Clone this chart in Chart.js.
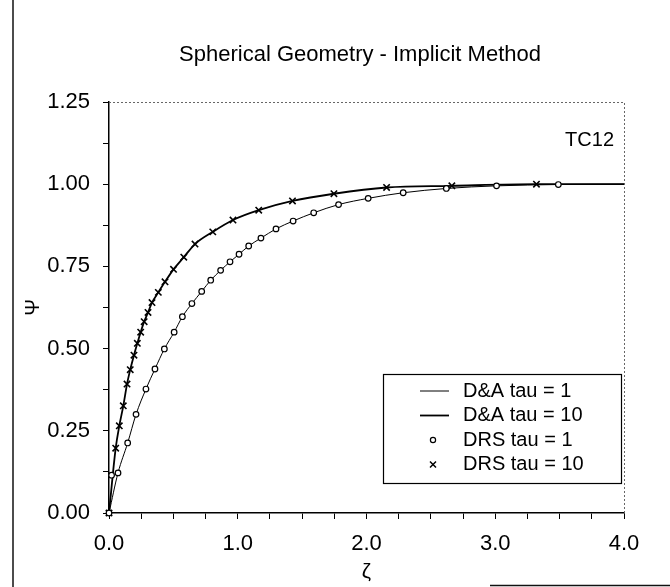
<!DOCTYPE html>
<html>
<head>
<meta charset="utf-8">
<script src="https://cdn.jsdelivr.net/npm/chart.js@4.4.0/dist/chart.umd.min.js"></script>
<style>
  html, body { margin: 0; padding: 0; background: #fff; }
  #chart { display: block; }
</style>
</head>
<body>
<canvas id="chart" width="670" height="587"></canvas>
<script>
// D&A tau = 1 (line)
const daTau1X = [0, 0.07, 0.145, 0.21, 0.287, 0.357, 0.43, 0.506, 0.57, 0.644, 0.72, 0.79, 0.867, 0.94, 1.01, 1.085, 1.18, 1.297, 1.43, 1.59, 1.783, 2.013, 2.285, 2.62, 3.01, 3.49, 4.0];
const daTau1Y = [0, 0.122, 0.213, 0.30, 0.377, 0.438, 0.499, 0.55, 0.597, 0.637, 0.674, 0.708, 0.738, 0.764, 0.787, 0.812, 0.836, 0.864, 0.888, 0.913, 0.938, 0.957, 0.974, 0.987, 0.995, 0.999, 1.0];

// D&A tau = 10 (line)
const daTau10X = [0, 0.052, 0.08, 0.111, 0.14, 0.165, 0.194, 0.22, 0.246, 0.273, 0.303, 0.334, 0.383, 0.435, 0.501, 0.581, 0.668, 0.806, 0.963, 1.163, 1.425, 1.747, 2.156, 2.663, 3.32, 4.0];
const daTau10Y = [0, 0.197, 0.265, 0.326, 0.392, 0.436, 0.48, 0.516, 0.55, 0.582, 0.61, 0.64, 0.671, 0.703, 0.741, 0.778, 0.818, 0.855, 0.891, 0.921, 0.949, 0.971, 0.990, 0.995, 1.0, 1.0];

// DRS tau = 1 (circles)
const drsTau1X = [0, 0.02, 0.07, 0.145, 0.21, 0.287, 0.357, 0.43, 0.506, 0.57, 0.644, 0.72, 0.79, 0.867, 0.94, 1.01, 1.085, 1.18, 1.297, 1.43, 1.59, 1.783, 2.013, 2.285, 2.62, 3.01, 3.49];
const drsTau1Y = [0, 0.115, 0.122, 0.213, 0.30, 0.377, 0.438, 0.499, 0.55, 0.597, 0.637, 0.674, 0.708, 0.738, 0.764, 0.787, 0.812, 0.836, 0.864, 0.888, 0.913, 0.938, 0.957, 0.974, 0.987, 0.995, 0.999];

// DRS tau = 10 (crosses)
const drsTau10X = [0, 0.052, 0.08, 0.111, 0.14, 0.165, 0.194, 0.22, 0.246, 0.273, 0.303, 0.334, 0.383, 0.435, 0.501, 0.581, 0.668, 0.806, 0.963, 1.163, 1.425, 1.747, 2.156, 2.663, 3.32];
const drsTau10Y = [0, 0.197, 0.265, 0.326, 0.392, 0.436, 0.48, 0.516, 0.55, 0.582, 0.61, 0.64, 0.671, 0.703, 0.741, 0.778, 0.818, 0.855, 0.891, 0.921, 0.949, 0.971, 0.990, 0.995, 1.0];

// Tick labels
const xTickLabels = ['0.0', '1.0', '2.0', '3.0', '4.0'];
const yTickLabels = ['0.00', '0.25', '0.50', '0.75', '1.00', '1.25'];

const chartTitle = 'Spherical Geometry - Implicit Method';
const FONT = '"Liberation Sans", Arial, sans-serif';

function pairs(xs, ys) {
    return xs.map((x, i) => ({ x: x, y: ys[i] }));
}

// Outer frame of the scanned figure
const framePlugin = {
    id: 'frame',
    beforeDraw(chart) {
        const ctx = chart.ctx;
        ctx.save();
        ctx.fillStyle = '#fff';
        ctx.fillRect(0, 0, chart.width, chart.height);
        ctx.strokeStyle = '#111';
        ctx.lineWidth = 1.5;
        ctx.beginPath();
        ctx.moveTo(13, 0);
        ctx.lineTo(13, chart.height);
        ctx.stroke();
        ctx.beginPath();
        ctx.moveTo(490, 585.5);
        ctx.lineTo(chart.width, 585.5);
        ctx.stroke();
        ctx.restore();
    }
};

// Title, dotted top / right border of plot area, legend box and TC12 note
const overlayPlugin = {
    id: 'overlay',
    beforeDatasetsDraw(chart) {
        const { ctx, chartArea } = chart;
        ctx.save();
        ctx.strokeStyle = '#666';
        ctx.lineWidth = 1;
        ctx.setLineDash([2, 2]);
        ctx.beginPath();
        ctx.moveTo(chartArea.left, chartArea.top + 0.5);
        ctx.lineTo(chartArea.right + 0.5, chartArea.top + 0.5);
        ctx.lineTo(chartArea.right + 0.5, chartArea.bottom);
        ctx.stroke();
        ctx.restore();
    },
    afterDraw(chart) {
        const ctx = chart.ctx;
        ctx.save();
        ctx.fillStyle = '#000';
        // title
        ctx.font = '22px ' + FONT;
        ctx.textAlign = 'center';
        ctx.textBaseline = 'middle';
        ctx.fillText(chartTitle, 360, 55);

        // TC12
        ctx.font = '20px ' + FONT;
        ctx.textAlign = 'right';
        ctx.fillText('TC12', 614, 140);

        // legend box
        ctx.strokeStyle = '#000';
        ctx.lineWidth = 1.2;
        ctx.fillStyle = '#fff';
        ctx.fillRect(383, 374, 238, 109);
        ctx.strokeRect(383.5, 374.5, 238, 109);

        ctx.textAlign = 'left';
        ctx.fillStyle = '#000';
        const rows = [391, 415.5, 440, 464.5];
        chart.data.datasets.forEach((ds, i) => {
            const y = rows[i];
            if (ds.pointRadius === 0) {
                ctx.lineWidth = ds.borderWidth;
                ctx.strokeStyle = '#000';
                ctx.beginPath();
                ctx.moveTo(420, y);
                ctx.lineTo(449, y);
                ctx.stroke();
            } else if (ds.pointStyle === 'circle') {
                ctx.lineWidth = 1.2;
                ctx.beginPath();
                ctx.arc(433, y, 2.6, 0, Math.PI * 2);
                ctx.stroke();
            } else {
                ctx.lineWidth = 1.5;
                ctx.beginPath();
                ctx.moveTo(430, y - 3); ctx.lineTo(436, y + 3);
                ctx.moveTo(436, y - 3); ctx.lineTo(430, y + 3);
                ctx.stroke();
            }
            ctx.fillText(ds.label, 463, y);
        });
        ctx.restore();
    }
};

const ctx = document.getElementById('chart').getContext('2d');
const chart = new Chart(ctx, {
    type: 'scatter',
    data: {
        datasets: [
            {
                label: 'D&A tau = 1',
                data: pairs(daTau1X, daTau1Y),
                showLine: true,
                borderColor: '#000',
                borderWidth: 1,
                pointRadius: 0,
                cubicInterpolationMode: 'monotone',
                order: 2
            },
            {
                label: 'D&A tau = 10',
                data: pairs(daTau10X, daTau10Y),
                showLine: true,
                borderColor: '#000',
                borderWidth: 1.8,
                pointRadius: 0,
                cubicInterpolationMode: 'monotone',
                order: 2
            },
            {
                label: 'DRS tau = 1',
                data: pairs(drsTau1X, drsTau1Y),
                showLine: false,
                pointStyle: 'circle',
                pointRadius: 2.8,
                borderColor: '#000',
                backgroundColor: '#fff',
                borderWidth: 1.2,
                clip: false,
                order: 0
            },
            {
                label: 'DRS tau = 10',
                data: pairs(drsTau10X, drsTau10Y),
                showLine: false,
                pointStyle: 'crossRot',
                pointRadius: 4.5,
                borderColor: '#000',
                borderWidth: 1.6,
                clip: false,
                order: 0
            }
        ]
    },
    options: {
        responsive: false,
        animation: false,
        layout: { padding: { left: 0, right: 46, top: 102, bottom: 0 } },
        plugins: {
            legend: { display: false },
            tooltip: { enabled: false },
            title: { display: false }
        },
        scales: {
            x: {
                type: 'linear',
                min: 0,
                max: 4,
                afterFit(scale) { scale.height = 74; },
                ticks: {
                    stepSize: 0.25,
                    autoSkip: false,
                    maxRotation: 0,
                    color: '#000',
                    padding: 12,
                    font: { family: FONT, size: 22 },
                    callback(value) {
                        const i = Math.round(value);
                        return Math.abs(value - i) < 1e-9 ? xTickLabels[i] : '';
                    }
                },
                grid: { drawOnChartArea: false, drawTicks: true, tickLength: 6, color: '#000' },
                border: { display: true, color: '#000', width: 1.5 },
                title: {
                    display: true,
                    text: 'ζ',
                    color: '#000',
                    font: { family: FONT, size: 21 },
                    padding: { top: 0, bottom: 2 }
                }
            },
            y: {
                type: 'linear',
                min: 0,
                max: 1.25,
                afterFit(scale) { scale.width = 109; },
                ticks: {
                    stepSize: 0.125,
                    autoSkip: false,
                    color: '#000',
                    padding: 13,
                    font: { family: FONT, size: 22 },
                    callback(value) {
                        const i = Math.round(value / 0.25);
                        return Math.abs(value - i * 0.25) < 1e-9 ? yTickLabels[i] : '';
                    }
                },
                grid: { drawOnChartArea: false, drawTicks: true, tickLength: 6, color: '#000' },
                border: { display: true, color: '#000', width: 1.5 },
                title: {
                    display: true,
                    text: 'Ψ',
                    color: '#000',
                    font: { family: FONT, size: 20 },
                    padding: { top: 21, bottom: 0 }
                }
            }
        }
    },
    plugins: [framePlugin, overlayPlugin]
});
</script>
</body>
</html>
